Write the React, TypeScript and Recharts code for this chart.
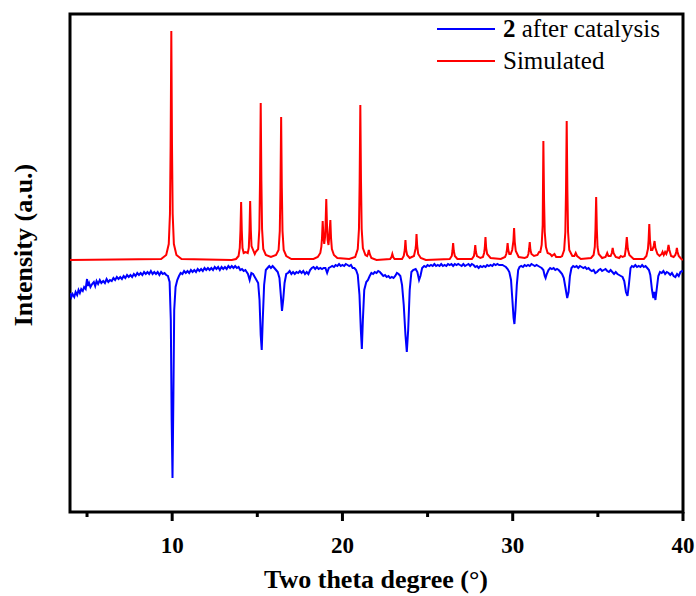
import React from 'react';
import { LineChart, Line, XAxis, YAxis, ReferenceArea, Legend } from 'recharts';

// Two theta (deg) vs intensity (arbitrary units, offset stacked)
const simulated: [number, number][] = [
  [4, 252], [9.35, 253], [9.65, 257], [9.8, 268], [9.87, 298], [9.91, 367], [9.95, 481], [9.99, 367], [10.03, 298], [10.1, 268], [10.25, 257], [10.55, 253],
  [13.5, 252], [13.75, 253], [13.9, 256], [13.97, 264], [14.01, 281], [14.05, 310], [14.09, 281], [14.13, 264],
  [14.2, 259], [14.32, 260], [14.44, 259], [14.5, 264], [14.54, 281], [14.58, 311], [14.62, 282], [14.66, 266],
  [14.85, 258], [14.9, 260], [15.05, 263], [15.12, 283], [15.16, 331], [15.2, 409], [15.24, 331], [15.28, 283], [15.35, 263], [15.5, 257],
  [15.8, 255], [16.1, 257], [16.25, 262], [16.32, 281], [16.36, 324], [16.4, 395], [16.44, 324], [16.48, 281], [16.55, 262], [16.7, 256], [17.0, 253],
  [18.3, 253], [18.55, 255], [18.7, 259], [18.76, 265], [18.8, 274], [18.84, 291], [18.88, 276], [18.93, 268], [18.98, 275], [19.01, 288], [19.05, 313],
  [19.09, 288], [19.13, 272], [19.18, 267], [19.22, 274], [19.25, 282], [19.29, 292], [19.33, 274], [19.38, 263], [19.5, 257], [19.7, 254],
  [20.4, 253], [20.75, 255], [20.9, 263], [20.97, 283], [21.01, 330], [21.05, 407], [21.09, 330], [21.13, 283], [21.2, 264], [21.35, 257],
  [21.45, 256], [21.5, 258], [21.55, 262], [21.6, 258], [21.7, 254], [22.0, 252],
  [22.8, 253], [22.88, 255], [22.93, 258], [22.98, 255], [23.06, 253],
  [23.5, 253], [23.6, 256], [23.66, 262], [23.7, 272], [23.74, 262], [23.8, 257],
  [23.95, 254], [24.2, 256], [24.29, 263], [24.32, 267], [24.35, 278], [24.39, 266], [24.45, 258], [24.6, 254], [24.9, 252],
  [26.3, 253], [26.42, 256], [26.46, 261], [26.5, 269], [26.54, 261], [26.6, 256], [26.75, 253],
  [27.6, 253], [27.72, 256], [27.76, 260], [27.8, 267], [27.84, 260], [27.9, 256], [28.1, 254],
  [28.25, 255], [28.32, 259], [28.36, 264], [28.4, 275], [28.44, 264], [28.5, 258], [28.7, 254], [29.3, 253],
  [29.55, 255], [29.62, 258], [29.66, 262], [29.7, 269], [29.74, 262], [29.8, 258], [29.88, 258],
  [29.97, 262], [30.04, 271], [30.08, 284], [30.12, 270], [30.18, 261], [30.35, 255], [30.7, 254],
  [30.85, 255], [30.92, 258], [30.96, 263], [31.0, 270], [31.04, 262], [31.1, 258], [31.25, 256],
  [31.45, 257], [31.55, 260], [31.62, 260], [31.7, 267], [31.76, 287], [31.8, 371], [31.84, 312], [31.88, 280], [31.95, 265], [32.05, 259],
  [32.2, 258], [32.3, 256], [32.45, 258], [32.55, 255], [32.8, 255],
  [32.9, 256], [33.02, 262], [33.09, 280], [33.13, 322], [33.17, 391], [33.21, 322], [33.25, 280], [33.32, 262], [33.5, 256], [33.62, 256], [33.7, 259], [33.78, 256], [34.0, 253],
  [34.6, 254], [34.75, 257], [34.82, 265], [34.86, 283], [34.9, 315], [34.94, 283], [34.98, 265], [35.05, 258], [35.25, 254],
  [35.45, 255], [35.55, 259], [35.62, 256], [35.75, 256], [35.82, 259], [35.87, 264], [35.92, 259], [36.05, 255], [36.25, 254], [36.35, 256], [36.45, 255],
  [36.58, 256], [36.64, 263], [36.7, 275], [36.76, 263], [36.85, 257], [37.1, 253], [37.7, 253],
  [37.85, 256], [37.94, 263], [37.98, 272], [38.02, 288], [38.06, 272], [38.12, 262], [38.2, 262], [38.28, 266], [38.33, 271], [38.38, 264], [38.5, 258], [38.62, 256],
  [38.75, 258], [38.8, 260], [38.87, 257], [38.95, 260], [39.02, 258], [39.1, 262], [39.15, 267], [39.2, 262], [39.3, 256], [39.45, 255],
  [39.55, 257], [39.6, 260], [39.64, 264], [39.68, 260], [39.75, 256], [39.9, 253], [40, 252],
];

const afterCatalysis: [number, number][] = [
  [4.0, 219], [4.08, 215], [4.15, 218], [4.25, 215], [4.33, 220], [4.42, 217], [4.5, 222], [4.58, 219], [4.66, 223], [4.75, 221], [4.83, 225], [4.92, 223],
  [5.0, 233], [5.05, 226], [5.12, 229], [5.2, 225], [5.3, 228], [5.4, 230], [5.48, 226], [5.56, 231], [5.65, 228], [5.75, 232], [5.84, 229], [5.95, 231],
  [6.05, 229], [6.15, 233], [6.25, 230], [6.35, 232], [6.45, 231], [6.55, 234], [6.65, 232], [6.75, 235], [6.85, 233], [6.95, 235], [7.05, 233], [7.15, 236],
  [7.25, 234], [7.35, 237], [7.45, 235], [7.55, 237], [7.65, 235], [7.75, 238], [7.85, 236], [7.95, 239], [8.05, 237], [8.15, 239], [8.25, 237], [8.35, 240],
  [8.45, 238], [8.55, 240], [8.65, 238], [8.75, 241], [8.85, 238], [8.95, 240], [9.05, 238], [9.15, 240], [9.25, 237], [9.35, 240], [9.45, 238], [9.55, 239],
  [9.65, 237], [9.75, 236], [9.85, 230], [9.92, 192], [9.97, 92], [10.02, 34], [10.07, 112], [10.12, 202], [10.2, 225], [10.3, 232], [10.4, 236], [10.5, 239],
  [10.6, 238], [10.7, 241], [10.8, 239], [10.9, 241], [11.0, 239], [11.1, 242], [11.2, 240], [11.3, 242], [11.4, 240], [11.5, 243], [11.6, 241], [11.7, 243],
  [11.8, 241], [11.9, 244], [12.0, 242], [12.1, 244], [12.2, 242], [12.3, 244], [12.4, 242], [12.5, 245], [12.6, 243], [12.7, 245], [12.8, 242], [12.9, 245],
  [13.0, 243], [13.1, 245], [13.2, 243], [13.3, 246], [13.4, 244], [13.5, 246], [13.6, 244], [13.7, 246], [13.8, 244], [13.9, 245], [14.0, 242], [14.1, 243],
  [14.2, 241], [14.3, 242], [14.45, 238], [14.55, 232], [14.65, 239], [14.75, 238], [14.85, 235], [14.95, 232], [15.05, 229], [15.13, 212], [15.2, 177],
  [15.26, 162], [15.32, 192], [15.4, 227], [15.5, 242], [15.6, 244], [15.7, 246], [15.8, 244], [15.9, 246], [16.0, 244], [16.1, 242], [16.2, 240],
  [16.3, 234], [16.38, 217], [16.45, 201], [16.52, 212], [16.6, 229], [16.7, 238], [16.8, 239], [16.9, 241], [17.0, 238], [17.1, 240], [17.2, 238],
  [17.3, 240], [17.4, 239], [17.5, 241], [17.6, 239], [17.7, 241], [17.8, 238], [17.9, 240], [18.0, 238], [18.1, 242], [18.2, 244], [18.3, 245], [18.4, 243],
  [18.5, 245], [18.6, 243], [18.7, 244], [18.8, 243], [18.9, 244], [19.0, 244], [19.1, 239], [19.2, 244], [19.3, 245], [19.4, 246], [19.5, 245], [19.6, 247],
  [19.7, 246], [19.8, 248], [19.9, 246], [20.0, 247], [20.1, 246], [20.2, 248], [20.3, 247], [20.4, 246], [20.5, 247], [20.6, 244], [20.7, 244], [20.8, 242],
  [20.9, 237], [21.0, 217], [21.08, 182], [21.14, 163], [21.2, 192], [21.28, 222], [21.4, 230], [21.5, 232], [21.6, 236], [21.7, 239], [21.8, 238], [21.9, 240],
  [22.0, 239], [22.1, 241], [22.2, 240], [22.3, 238], [22.4, 236], [22.5, 237], [22.6, 235], [22.7, 236], [22.8, 234], [22.9, 235], [23.0, 234], [23.1, 236],
  [23.2, 239], [23.3, 238], [23.4, 236], [23.5, 227], [23.6, 207], [23.7, 177], [23.78, 160], [23.86, 182], [23.95, 222], [24.05, 240], [24.15, 242],
  [24.3, 243], [24.4, 240], [24.5, 232], [24.58, 236], [24.68, 244], [24.8, 246], [24.9, 245], [25.0, 247], [25.1, 246], [25.2, 247], [25.3, 246], [25.4, 248],
  [25.5, 246], [25.6, 247], [25.7, 246], [25.8, 248], [25.9, 246], [26.0, 247], [26.1, 246], [26.2, 248], [26.3, 247], [26.4, 248], [26.5, 246], [26.6, 248],
  [26.7, 247], [26.8, 248], [26.9, 247], [27.0, 246], [27.1, 248], [27.2, 246], [27.3, 247], [27.4, 248], [27.5, 246], [27.6, 248], [27.7, 247], [27.8, 245],
  [27.9, 246], [28.0, 244], [28.1, 246], [28.2, 245], [28.3, 246], [28.4, 245], [28.5, 247], [28.6, 246], [28.7, 247], [28.8, 246], [28.9, 248], [29.0, 247],
  [29.1, 248], [29.2, 247], [29.3, 247], [29.4, 247], [29.5, 246], [29.6, 245], [29.7, 243], [29.8, 240], [29.9, 232], [29.98, 212], [30.05, 194], [30.1, 188],
  [30.16, 202], [30.24, 227], [30.32, 242], [30.4, 245], [30.5, 246], [30.6, 245], [30.7, 247], [30.8, 246], [30.9, 247], [31.0, 246], [31.1, 248], [31.2, 247],
  [31.3, 246], [31.4, 247], [31.5, 246], [31.6, 245], [31.7, 244], [31.8, 242], [31.88, 236], [31.93, 234], [32.0, 238], [32.1, 242], [32.2, 244], [32.3, 243],
  [32.4, 244], [32.5, 242], [32.6, 243], [32.7, 242], [32.8, 240], [32.9, 238], [33.0, 234], [33.1, 224], [33.2, 214], [33.28, 220], [33.36, 236], [33.45, 244],
  [33.55, 246], [33.65, 245], [33.75, 246], [33.85, 244], [33.95, 246], [34.05, 245], [34.15, 244], [34.25, 245], [34.35, 243], [34.45, 244], [34.55, 242],
  [34.65, 241], [34.75, 242], [34.85, 239], [34.95, 240], [35.05, 242], [35.15, 243], [35.25, 241], [35.35, 242], [35.45, 243], [35.55, 241], [35.65, 240],
  [35.75, 242], [35.85, 240], [35.95, 238], [36.05, 240], [36.15, 238], [36.25, 237], [36.35, 236], [36.45, 235], [36.55, 231], [36.65, 220], [36.74, 216],
  [36.82, 227], [36.92, 244], [37.0, 246], [37.1, 245], [37.2, 247], [37.3, 245], [37.4, 246], [37.5, 245], [37.6, 247], [37.7, 245], [37.8, 246], [37.9, 244],
  [38.0, 242], [38.08, 237], [38.18, 222], [38.26, 214], [38.32, 220], [38.38, 212], [38.45, 222], [38.55, 236], [38.65, 240], [38.75, 239], [38.85, 241],
  [38.95, 238], [39.05, 240], [39.15, 239], [39.25, 237], [39.35, 239], [39.45, 236], [39.55, 235], [39.65, 238], [39.75, 236], [39.85, 240], [39.95, 241], [40.0, 240],
];

const xTicks = [5, 10, 15, 20, 25, 30, 35, 40];
const labelledTicks = [10, 20, 30, 40];
const seriesNames = ['after catalysis', 'Simulated'];
const seriesColors = ['#0000ff', '#ff0000'];

const simData = simulated.map(([x, y]) => ({ x, y }));
const catData = afterCatalysis.map(([x, y]) => ({ x, y }));

const FONT = '"Liberation Serif", "Times New Roman", serif';

const XTick = (props: any) => {
  const { x, y, payload } = props;
  const major = labelledTicks.includes(payload.value);
  return (
    <g>
      <line x1={x} x2={x} y1={y} y2={y + (major ? 9 : 5)} stroke="#000" strokeWidth={3} />
      {major && (
        <text x={x} y={y + 41} textAnchor="middle" fontFamily={FONT} fontWeight="bold" fontSize={23} fill="#000">
          {payload.value}
        </text>
      )}
    </g>
  );
};

const LegendContent = () => (
  <div style={{ fontFamily: FONT, fontSize: 25, color: '#000', lineHeight: '32px' }}>
    {[0, 1].map((i) => (
      <div key={i} style={{ display: 'flex', alignItems: 'center', height: 32 }}>
        <div style={{ width: 58, height: 2, background: seriesColors[i], marginRight: 8 }} />
        <span style={{ whiteSpace: 'nowrap' }}>
          {i === 0 ? (<><b>2</b> {seriesNames[0]}</>) : seriesNames[1]}
        </span>
      </div>
    ))}
  </div>
);

export default function App() {
  return (
    <div style={{ position: 'absolute', left: 0, top: 0 }}>
      <LineChart width={696} height={596} margin={{ top: 14, right: 13, left: 70, bottom: 0 }}>
        <XAxis
          dataKey="x"
          type="number"
          domain={[4, 40]}
          ticks={xTicks}
          allowDataOverflow
          axisLine={false}
          tickLine={false}
          tickSize={0}
          tickMargin={0}
          tick={<XTick />}
          height={84}
          interval={0}
          label={{
            content: () => (
              <text x={376} y={588} textAnchor="middle" fontFamily={FONT} fontWeight="bold" fontSize={26} fill="#000">
                Two theta degree (°)
              </text>
            ),
          }}
        />
        <YAxis
          type="number"
          domain={[0, 498]}
          allowDataOverflow
          hide
        />
        <ReferenceArea x1={4} x2={40} y1={0} y2={498} fill="none" stroke="#000" strokeWidth={3} ifOverflow="visible" />
        <Line data={catData} dataKey="y" name={seriesNames[0]} stroke={seriesColors[0]} strokeWidth={2} dot={false} isAnimationActive={false} />
        <Line data={simData} dataKey="y" name={seriesNames[1]} stroke={seriesColors[1]} strokeWidth={2} dot={false} isAnimationActive={false} />
        <Legend
          layout="horizontal"
          verticalAlign="middle"
          align="center"
          content={<LegendContent />}
          wrapperStyle={{ position: 'absolute', left: 437, top: 13, width: 250, height: 64 }}
        />
      </LineChart>
      <div
        style={{
          position: 'absolute',
          left: 24,
          top: 245,
          transform: 'translate(-50%, -50%) rotate(-90deg)',
          fontFamily: FONT,
          fontWeight: 'bold',
          fontSize: 26,
          whiteSpace: 'nowrap',
          color: '#000',
        }}
      >
        Intensity (a.u.)
      </div>
    </div>
  );
}
